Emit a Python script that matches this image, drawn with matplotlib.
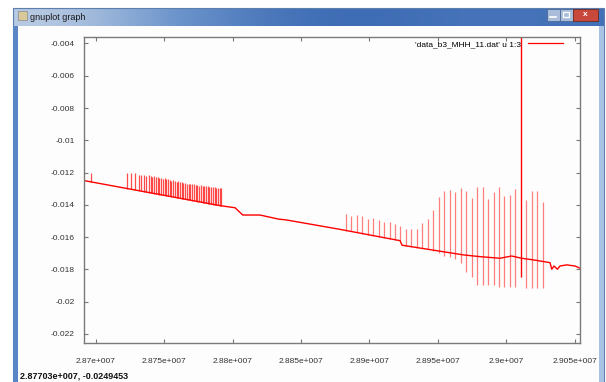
import matplotlib
matplotlib.use("Agg")
import matplotlib.pyplot as plt
from matplotlib.patches import Rectangle
from matplotlib.colors import LinearSegmentedColormap
import numpy as np

# baseline trace (x, y)
base_x = [2.86916e7, 2.87909e7, 2.88018e7, 2.88074e7, 2.88200e7, 2.88334e7, 2.88396e7,
          2.88773e7, 2.89224e7, 2.89238e7, 2.89686e7, 2.89809e7, 2.89955e7, 2.90040e7,
          2.90113e7, 2.90198e7, 2.90320e7, 2.90333e7, 2.90349e7, 2.90374e7, 2.90393e7,
          2.90442e7, 2.90503e7, 2.90540e7]
base_y = [-0.01250, -0.01405, -0.01418, -0.01463, -0.01463, -0.01488, -0.01494,
          -0.01550, -0.01622, -0.01650, -0.01710, -0.01721, -0.01731, -0.01717,
          -0.01731, -0.01741, -0.01758, -0.01799, -0.01779, -0.01799, -0.01779,
          -0.01772, -0.01779, -0.01793]

# first group of spikes
c1_x = [2.86963e7, 2.87230e7, 2.87260e7, 2.87289e7, 2.87316e7, 2.87333e7, 2.87350e7, 2.87365e7,
        2.87389e7, 2.87402e7, 2.87414e7, 2.87427e7, 2.87440e7, 2.87452e7, 2.87465e7, 2.87477e7,
        2.87490e7, 2.87503e7, 2.87515e7, 2.87528e7, 2.87540e7, 2.87553e7, 2.87566e7, 2.87578e7,
        2.87591e7, 2.87603e7, 2.87616e7, 2.87629e7, 2.87641e7, 2.87654e7, 2.87666e7, 2.87679e7,
        2.87692e7, 2.87704e7, 2.87717e7, 2.87729e7, 2.87742e7, 2.87755e7, 2.87767e7, 2.87780e7,
        2.87792e7, 2.87805e7, 2.87818e7, 2.87830e7, 2.87843e7, 2.87855e7, 2.87868e7, 2.87881e7,
        2.87893e7, 2.87906e7, 2.87918e7]
c1_top = [-0.01200, -0.01201, -0.01203, -0.01204, -0.01215, -0.01216, -0.01214, -0.01220,
          -0.01218, -0.01220, -0.01226, -0.01224, -0.01228, -0.01226, -0.01236, -0.01234,
          -0.01238, -0.01236, -0.01242, -0.01240, -0.01244, -0.01250, -0.01248, -0.01252,
          -0.01257, -0.01255, -0.01259, -0.01257, -0.01267, -0.01264, -0.01268, -0.01271,
          -0.01269, -0.01273, -0.01271, -0.01279, -0.01276, -0.01281, -0.01279, -0.01283,
          -0.01281, -0.01286, -0.01283, -0.01291, -0.01289, -0.01292, -0.01291, -0.01296,
          -0.01294, -0.01297, -0.01296]
c1_bot = [-0.01257, -0.01299, -0.01304, -0.01308, -0.01312, -0.01315, -0.01318, -0.01320,
          -0.01324, -0.01326, -0.01328, -0.01330, -0.01332, -0.01334, -0.01336, -0.01338,
          -0.01340, -0.01342, -0.01344, -0.01346, -0.01348, -0.01350, -0.01352, -0.01354,
          -0.01356, -0.01358, -0.01360, -0.01362, -0.01364, -0.01366, -0.01368, -0.01370,
          -0.01372, -0.01374, -0.01376, -0.01378, -0.01380, -0.01382, -0.01384, -0.01386,
          -0.01388, -0.01390, -0.01392, -0.01394, -0.01396, -0.01398, -0.01400, -0.01402,
          -0.01404, -0.01406, -0.01408]

# second group of spikes
c2_x = [2.88827e7, 2.88867e7, 2.88907e7, 2.88947e7, 2.88987e7, 2.89027e7, 2.89067e7, 2.89107e7,
        2.89147e7, 2.89187e7, 2.89227e7, 2.89267e7, 2.89307e7, 2.89347e7, 2.89387e7, 2.89427e7,
        2.89467e7, 2.89507e7, 2.89547e7, 2.89587e7, 2.89627e7, 2.89667e7, 2.89707e7, 2.89747e7,
        2.89787e7, 2.89827e7, 2.89867e7, 2.89907e7, 2.89947e7, 2.89987e7, 2.90027e7, 2.90067e7,
        2.90107e7, 2.90147e7, 2.90187e7, 2.90227e7, 2.90267e7]
c2_top = [-0.01457, -0.01469, -0.01463, -0.01469, -0.01490, -0.01480, -0.01494, -0.01508,
          -0.01504, -0.01519, -0.01531, -0.01551, -0.01551, -0.01551, -0.01514, -0.01488,
          -0.01432, -0.01353, -0.01314, -0.01308, -0.01320, -0.01298, -0.01312, -0.01359,
          -0.01291, -0.01291, -0.01366, -0.01322, -0.01291, -0.01345, -0.01339, -0.01304,
          -0.00300, -0.01370, -0.01312, -0.01314, -0.01380]
c2_bot = [-0.01559, -0.01565, -0.01571, -0.01578, -0.01584, -0.01591, -0.01597, -0.01603,
          -0.01610, -0.01616, -0.01623, -0.01654, -0.01659, -0.01665, -0.01670, -0.01675,
          -0.01688, -0.01700, -0.01717, -0.01721, -0.01737, -0.01762, -0.01814, -0.01845,
          -0.01896, -0.01896, -0.01896, -0.01896, -0.01907, -0.01907, -0.01907, -0.01907,
          -0.01850, -0.01917, -0.01917, -0.01917, -0.01917]

x_ticks = [2.87e7, 2.875e7, 2.88e7, 2.885e7, 2.89e7, 2.895e7, 2.9e7, 2.905e7]
x_labels = ['2.87e+007', '2.875e+007', '2.88e+007', '2.885e+007', '2.89e+007',
            '2.895e+007', '2.9e+007', '2.905e+007']
y_ticks = [-0.004, -0.006, -0.008, -0.01, -0.012, -0.014, -0.016, -0.018, -0.02, -0.022]
y_labels = ['-0.004', '-0.006', '-0.008', '-0.01', '-0.012', '-0.014', '-0.016',
            '-0.018', '-0.02', '-0.022']

W, H = 606, 382
plt.rcParams['font.family'] = ['Liberation Sans', 'DejaVu Sans']
fig = plt.figure(figsize=(W / 100, H / 100), dpi=100)
fig.patch.set_facecolor('white')

# window chrome
bg = fig.add_axes([0, 0, 1, 1])
bg.set_xlim(0, W)
bg.set_ylim(H, 0)
bg.axis('off')
grad = np.array([[0.0, 0.35, 0.7, 1.0, 1.0, 0.9, 0.95]])
cm = LinearSegmentedColormap.from_list('t', ['#b9cbe3', '#6d95cc', '#3f6db5'])
bg.imshow(grad, cmap=cm, extent=[13, 604, 26, 8], aspect='auto', interpolation='bicubic')
bg.add_patch(Rectangle((13, 8), 591, 374, fill=False, ec='#5c7fae', lw=0.8))
bg.add_patch(Rectangle((13, 26), 5, 356, fc='#5a86c6', ec='none'))
bg.add_patch(Rectangle((599, 26), 5, 356, fc='#a9c1e2', ec='none'))
bg.add_patch(Rectangle((18, 26), 581, 356, fc='#fdfdfd', ec='none'))
bg.add_patch(Rectangle((18, 11), 9, 9, fc='#d8c89a', ec='#8a8a8a', lw=0.5))
bg.text(30, 17, 'gnuplot graph', fontsize=6.5, color='#1a1a1a', va='center', ha='left')
bg.add_patch(Rectangle((547, 9), 13, 12, fc='#a9bddb', ec='#4d6a96', lw=0.6))
bg.add_patch(Rectangle((560, 9), 13, 12, fc='#a9bddb', ec='#4d6a96', lw=0.6))
bg.add_patch(Rectangle((573, 9), 25, 12, fc='#c8483b', ec='#6a2a22', lw=0.6))
bg.plot([550, 556], [17, 17], color='white', lw=1.2)
bg.add_patch(Rectangle((563, 12), 6, 5, fill=False, ec='white', lw=0.9))
bg.text(585.5, 15, 'x', fontsize=6, color='white', ha='center', va='center', fontweight='bold')
bg.text(20, 376, '2.87703e+007, -0.0249453', fontsize=6.5, fontweight='bold',
        color='#111111', ha='left', va='center')

# plot
ax = fig.add_axes([84.3 / W, 1 - 343 / H, (579.7 - 84.3) / W, (343 - 37) / H])
ax.set_facecolor('none')
ax.vlines(c1_x, c1_bot, c1_top, colors='#ff0000', lw=0.9, alpha=0.7)
ax.vlines(c2_x, c2_bot, c2_top, colors='#ff0000', lw=0.9, alpha=0.5)
ax.vlines([c2_x[32]], [c2_bot[32]], [c2_top[32]], colors='#ff0000', lw=0.9)
ax.plot(base_x, base_y, color='#ff0000', lw=1.0, label="'data_b3_MHH_11.dat' u 1:3")

ax.set_xlim(2.86916e7, 2.90537e7)
ax.set_ylim(-0.02256, -0.0036)
ax.set_xticks(x_ticks, x_labels)
ax.set_yticks(y_ticks, y_labels)
ax.tick_params(direction='in', length=3, width=0.8, color='#777777', labelsize=6,
               labelcolor='#333333', top=True, right=True)
ax.tick_params(axis='x', pad=11)
ax.tick_params(axis='y', pad=7)
for s in ax.spines.values():
    s.set_color('#7a7a7a')
    s.set_linewidth(1.0)

leg = ax.legend(loc='upper right', bbox_to_anchor=((563 - 84.3) / 495.4, 1 - 3 / 306),
                markerfirst=False, frameon=False, fontsize=6, handlelength=4.2,
                handletextpad=0.8, borderaxespad=0, borderpad=0)
for h in leg.get_lines():
    h.set_linewidth(0.9)

fig.savefig('out.png', dpi=100)
